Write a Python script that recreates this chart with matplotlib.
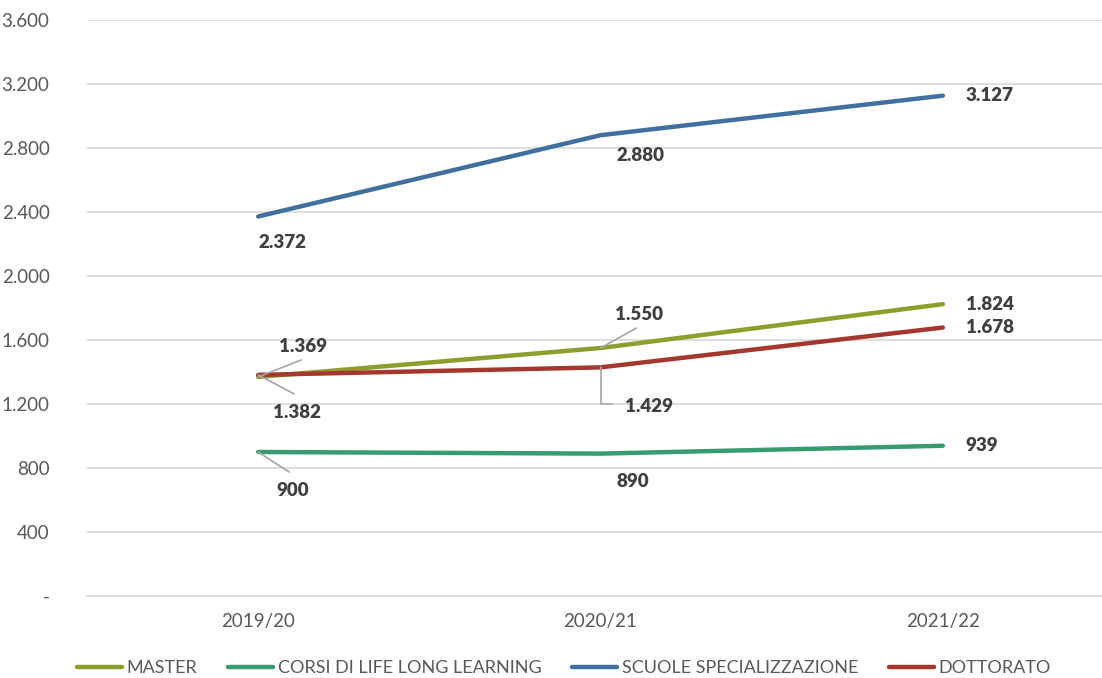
import numpy as np
import matplotlib.pyplot as plt
from matplotlib import font_manager as fm

# data
years = ["2019/20", "2020/21", "2021/22"]
master = [1369, 1550, 1824]
lll = [900, 890, 939]
scuole = [2372, 2880, 3127]
dottorato = [1382, 1429, 1678]

names = ["MASTER", "CORSI DI LIFE LONG LEARNING", "SCUOLE SPECIALIZZAZIONE", "DOTTORATO"]
colors = ["#8C9E2B", "#369B70", "#41709E", "#A4382F"]

installed = set(f.name for f in fm.fontManager.ttflist)
tick_font = "Lato" if "Lato" in installed else "DejaVu Sans"

fig = plt.figure(figsize=(11.02, 6.78), dpi=100)
ax = fig.add_axes([87 / 1102, 1 - 596 / 678, (1114 - 87) / 1102, 576 / 678])

x = np.arange(len(years))
lines = []
for vals, name, c in zip([master, lll, scuole, dottorato], names, colors):
    ln, = ax.plot(x, vals, color=c, lw=3.2, solid_capstyle="round", label=name, zorder=3)
    lines.append(ln)

ax.set_xlim(-0.5, 2.5)
ax.set_ylim(0, 3600)
ax.set_yticks(np.arange(0, 3601, 400))
ax.set_yticklabels(["-"] + [f"{v:,}".replace(",", ".") for v in range(400, 3601, 400)])
ax.set_xticks(x)
ax.set_xticklabels(years)
ax.grid(axis="y", color="#D9D9D9", lw=1.2, zorder=0)
for s in ["top", "right", "left"]:
    ax.spines[s].set_visible(False)
ax.spines["bottom"].set_color("#D9D9D9")
ax.spines["bottom"].set_linewidth(1.2)
ax.tick_params(length=0, labelsize=13.5, labelcolor="#595959", pad=12)
ax.tick_params(axis="y", pad=27)
for t in ax.get_xticklabels() + ax.get_yticklabels():
    t.set_fontfamily(tick_font)


def fmt(v):
    return f"{v:,}".replace(",", ".")


lab_kw = dict(textcoords="offset pixels", fontsize=13.5, fontweight="heavy",
              color="#404040", fontfamily=tick_font, va="center")
lead = dict(arrowstyle="-", color="#A6A6A6", lw=1.2, shrinkA=0, shrinkB=0)

# (series, index, dx, dy, ha)  offsets in pixels, dy up positive
offsets = [
    (scuole, 0, 24, -26, "center"),
    (scuole, 1, 40, -20, "center"),
    (scuole, 2, 23, 0, "left"),
    (master, 1, 39, 33, "center"),
    (master, 2, 23, 0, "left"),
    (dottorato, 2, 23, 0, "left"),
    (lll, 1, 32, -28, "center"),
    (lll, 2, 23, 0, "left"),
]
for ser, i, dx, dy, ha in offsets:
    ax.annotate(fmt(ser[i]), (x[i], ser[i]), xytext=(dx, dy), ha=ha, **lab_kw)

# labels with leader lines
ax.annotate(fmt(master[0]), (x[0], master[0]), xytext=(45, 30), ha="center", **lab_kw)
ax.annotate("", (x[0], master[0]), xytext=(43, 17), textcoords="offset pixels", arrowprops=lead)
ax.annotate(fmt(dottorato[0]), (x[0], dottorato[0]), xytext=(39, -38), ha="center", **lab_kw)
ax.annotate("", (x[0], dottorato[0]), xytext=(36, -19), textcoords="offset pixels", arrowprops=lead)
ax.annotate(fmt(lll[0]), (x[0], lll[0]), xytext=(35, -39), ha="center", **lab_kw)
ax.annotate("", (x[0], lll[0]), xytext=(31, -20), textcoords="offset pixels", arrowprops=lead)
ax.annotate("", (x[1], master[1]), xytext=(36, 20), textcoords="offset pixels", arrowprops=lead)
ax.annotate(fmt(dottorato[1]), (x[1], dottorato[1]), xytext=(48, -39), ha="center", **lab_kw)
ax.annotate("", (x[1], dottorato[1]), xytext=(11, -37), textcoords="offset pixels",
            arrowprops=dict(lead, connectionstyle="angle,angleA=0,angleB=90,rad=0"))

leg = fig.legend(handles=lines, loc="center", bbox_to_anchor=(564 / 1102, 1 - 668 / 678),
                 ncol=4, frameon=False, handlelength=2.5, handletextpad=0.25,
                 columnspacing=1.7, prop={"family": tick_font, "size": 13})
for t in leg.get_texts():
    t.set_color("#595959")

plt.savefig("out.png", dpi=100)
